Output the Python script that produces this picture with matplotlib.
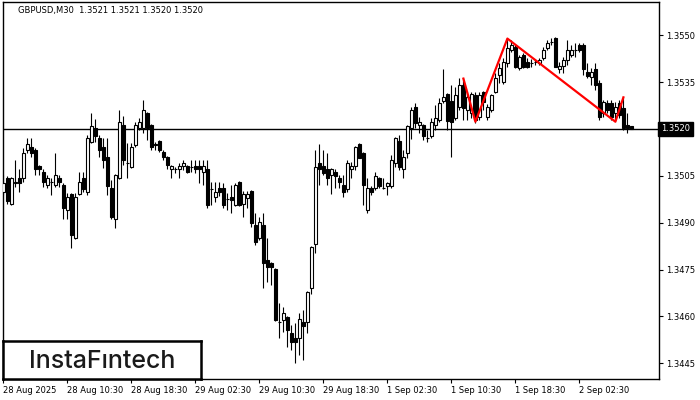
import matplotlib
matplotlib.use("Agg")
import matplotlib.pyplot as plt
from matplotlib.patches import Rectangle

# GBPUSD M30 candles (open, high, low, close)
opens = [1.34998, 1.35042, 1.34959, 1.35026, 1.35042, 1.35042, 1.35132, 1.35142, 1.35132, 1.35081,
         1.35062, 1.35020, 1.35030, 1.35020, 1.35042, 1.35020, 1.34940, 1.34991, 1.34850, 1.34991,
         1.35042, 1.34998, 1.35158, 1.35202, 1.35170, 1.35142, 1.35110, 1.35010, 1.34911, 1.35042,
         1.35212, 1.35090, 1.35078, 1.35148, 1.35202, 1.35202, 1.35250, 1.35212, 1.35151, 1.35161,
         1.35126, 1.35110, 1.35071, 1.35071, 1.35071, 1.35081, 1.35081, 1.35078, 1.35081, 1.35081,
         1.35062, 1.35071, 1.35007, 1.34982, 1.35010, 1.35010, 1.34975, 1.34982, 1.34956, 1.35030,
         1.34959, 1.34978, 1.35001, 1.34892, 1.34850, 1.34892, 1.34780, 1.34770, 1.34751, 1.34582,
         1.34588, 1.34598, 1.34546, 1.34530, 1.34530, 1.34582, 1.34582, 1.34690, 1.34831, 1.35090,
         1.35081, 1.35071, 1.35052, 1.35062, 1.35042, 1.35020, 1.35007, 1.35071, 1.35081, 1.35151,
         1.35122, 1.34940, 1.35010, 1.35010, 1.35042, 1.35010, 1.35017, 1.35017, 1.35090, 1.35161,
         1.35071, 1.35122, 1.35202, 1.35270, 1.35212, 1.35212, 1.35170, 1.35177, 1.35212, 1.35228,
         1.35289, 1.35311, 1.35289, 1.35234, 1.35270, 1.35340, 1.35260, 1.35250, 1.35308, 1.35238,
         1.35318, 1.35238, 1.35260, 1.35318, 1.35372, 1.35350, 1.35410, 1.35452, 1.35462, 1.35394,
         1.35436, 1.35414, 1.35410, 1.35414, 1.35410, 1.35426, 1.35458, 1.35478, 1.35490, 1.35391,
         1.35401, 1.35420, 1.35436, 1.35452, 1.35468, 1.35468, 1.35382, 1.35366, 1.35391, 1.35346,
         1.35250, 1.35282, 1.35282, 1.35250, 1.35282, 1.35266, 1.35212, 1.3521]
highs = [1.35052, 1.35049, 1.35046, 1.35100, 1.35071, 1.35138, 1.35170, 1.35170, 1.35138, 1.35084,
         1.35071, 1.35052, 1.35042, 1.35122, 1.35052, 1.35026, 1.34994, 1.34994, 1.34994, 1.35062,
         1.35062, 1.35180, 1.35250, 1.35231, 1.35180, 1.35170, 1.35170, 1.35036, 1.35055, 1.35260,
         1.35241, 1.35154, 1.35154, 1.35222, 1.35234, 1.35292, 1.35254, 1.35215, 1.35158, 1.35164,
         1.35132, 1.35113, 1.35084, 1.35078, 1.35090, 1.35100, 1.35084, 1.35100, 1.35100, 1.35100,
         1.35100, 1.35100, 1.35030, 1.35030, 1.35030, 1.35026, 1.34994, 1.35020, 1.35026, 1.35033,
         1.35001, 1.35001, 1.35004, 1.34930, 1.34918, 1.34930, 1.34850, 1.34774, 1.34754, 1.34642,
         1.34630, 1.34601, 1.34572, 1.34578, 1.34610, 1.34620, 1.34681, 1.34825, 1.35132, 1.35151,
         1.35132, 1.35122, 1.35074, 1.35071, 1.35052, 1.35052, 1.35100, 1.35094, 1.35145, 1.35154,
         1.35126, 1.35042, 1.35017, 1.35062, 1.35046, 1.35042, 1.35030, 1.35116, 1.35174, 1.35180,
         1.35132, 1.35212, 1.35270, 1.35282, 1.35238, 1.35215, 1.35196, 1.35234, 1.35276, 1.35298,
         1.35391, 1.35314, 1.35340, 1.35334, 1.35362, 1.35362, 1.35318, 1.35318, 1.35318, 1.35318,
         1.35321, 1.35279, 1.35311, 1.35378, 1.35410, 1.35426, 1.35490, 1.35484, 1.35468, 1.35436,
         1.35442, 1.35426, 1.35423, 1.35423, 1.35426, 1.35462, 1.35484, 1.35490, 1.35494, 1.35414,
         1.35430, 1.35484, 1.35468, 1.35474, 1.35474, 1.35474, 1.35410, 1.35394, 1.35410, 1.35356,
         1.35292, 1.35292, 1.35292, 1.35286, 1.35292, 1.35302, 1.35250, 1.3521]
lows = [1.34988, 1.34959, 1.34956, 1.35014, 1.34998, 1.35030, 1.35122, 1.35110, 1.35052, 1.35052,
        1.35014, 1.35010, 1.34988, 1.35014, 1.35014, 1.34911, 1.34911, 1.34818, 1.34847, 1.34988,
        1.34998, 1.34988, 1.35154, 1.35158, 1.35110, 1.35074, 1.34988, 1.34911, 1.34882, 1.35039,
        1.35084, 1.35042, 1.35074, 1.35142, 1.35196, 1.35186, 1.35164, 1.35132, 1.35132, 1.35126,
        1.35100, 1.35071, 1.35042, 1.35058, 1.35042, 1.35068, 1.35058, 1.35062, 1.35058, 1.35026,
        1.35020, 1.34946, 1.34956, 1.34966, 1.34985, 1.34946, 1.34940, 1.34930, 1.34953, 1.34953,
        1.34918, 1.34946, 1.34886, 1.34828, 1.34844, 1.34690, 1.34710, 1.34700, 1.34585, 1.34530,
        1.34550, 1.34502, 1.34492, 1.34450, 1.34476, 1.34460, 1.34546, 1.34671, 1.34802, 1.35020,
        1.35052, 1.35020, 1.34991, 1.35010, 1.35010, 1.34982, 1.34998, 1.35042, 1.35068, 1.35106,
        1.34956, 1.34930, 1.34988, 1.35004, 1.35010, 1.35007, 1.34988, 1.35010, 1.35078, 1.35068,
        1.35042, 1.35106, 1.35167, 1.35202, 1.35186, 1.35164, 1.35158, 1.35170, 1.35196, 1.35222,
        1.35282, 1.35196, 1.35110, 1.35228, 1.35260, 1.35228, 1.35228, 1.35234, 1.35218, 1.35228,
        1.35260, 1.35228, 1.35254, 1.35314, 1.35346, 1.35343, 1.35398, 1.35446, 1.35394, 1.35388,
        1.35394, 1.35394, 1.35398, 1.35404, 1.35404, 1.35420, 1.35452, 1.35468, 1.35398, 1.35378,
        1.35378, 1.35404, 1.35430, 1.35430, 1.35446, 1.35372, 1.35362, 1.35340, 1.35324, 1.35228,
        1.35238, 1.35250, 1.35228, 1.35228, 1.35234, 1.35196, 1.35186, 1.3520]
closes = [1.35026, 1.34969, 1.35042, 1.35030, 1.35026, 1.35122, 1.35151, 1.35122, 1.35071, 1.35071,
          1.35030, 1.35042, 1.35030, 1.35052, 1.35030, 1.34946, 1.34982, 1.34860, 1.34982, 1.35030,
          1.35007, 1.35170, 1.35209, 1.35177, 1.35132, 1.35100, 1.35017, 1.34918, 1.35052, 1.35222,
          1.35100, 1.35090, 1.35142, 1.35212, 1.35222, 1.35260, 1.35202, 1.35142, 1.35148, 1.35132,
          1.35110, 1.35084, 1.35081, 1.35071, 1.35081, 1.35090, 1.35062, 1.35078, 1.35071, 1.35071,
          1.35081, 1.34956, 1.35007, 1.34998, 1.34998, 1.34956, 1.34975, 1.34972, 1.35020, 1.34956,
          1.34991, 1.34991, 1.34898, 1.34838, 1.34902, 1.34770, 1.34758, 1.34758, 1.34588, 1.34582,
          1.34610, 1.34556, 1.34518, 1.34518, 1.34591, 1.34569, 1.34678, 1.34822, 1.35078, 1.35071,
          1.35058, 1.35042, 1.35071, 1.35049, 1.35030, 1.34998, 1.35090, 1.35081, 1.35142, 1.35106,
          1.35020, 1.35010, 1.34998, 1.35049, 1.35017, 1.35010, 1.35026, 1.35100, 1.35170, 1.35078,
          1.35110, 1.35209, 1.35260, 1.35218, 1.35222, 1.35177, 1.35170, 1.35222, 1.35234, 1.35282,
          1.35302, 1.35225, 1.35222, 1.35308, 1.35340, 1.35266, 1.35302, 1.35311, 1.35228, 1.35308,
          1.35286, 1.35270, 1.35308, 1.35362, 1.35394, 1.35414, 1.35458, 1.35468, 1.35398, 1.35430,
          1.35398, 1.35398, 1.35410, 1.35414, 1.35420, 1.35452, 1.35474, 1.35478, 1.35398, 1.35401,
          1.35420, 1.35452, 1.35452, 1.35452, 1.35452, 1.35391, 1.35369, 1.35382, 1.35340, 1.35238,
          1.35286, 1.35260, 1.35238, 1.35270, 1.35244, 1.35202, 1.35202, 1.3520]

# double top pattern outline (bar index, price)
pattern_bars = [115, 118, 126, 153, 155]
pattern_prices = [1.35361, 1.35223, 1.35489, 1.35223, 1.35301]

current_price = 1.3520
title = "GBPUSD,M30  1.3521 1.3521 1.3520 1.3520"

xtick_bars = [0, 16, 32, 48, 64, 80, 96, 112, 128, 144]
xtick_labels = ["28 Aug 2025", "28 Aug 10:30", "28 Aug 18:30", "29 Aug 02:30", "29 Aug 10:30",
                "29 Aug 18:30", "1 Sep 02:30", "1 Sep 10:30", "1 Sep 18:30", "2 Sep 02:30"]
ytick_values = [1.3445, 1.3460, 1.3475, 1.3490, 1.3505, 1.3520, 1.3535, 1.3550]

W, H = 700, 400
fig = plt.figure(figsize=(W / 100, H / 100), dpi=100)
# plot frame in pixels: x 3..659, y 2..379
ax = fig.add_axes([3 / W, (H - 379) / H, 656 / W, 377 / H])
ax.set_xlim(-0.1, 163.9)
ax.set_ylim(1.34400, 1.35606)

fs = 6
for i in range(len(opens)):
    o, h, l, c = opens[i], highs[i], lows[i], closes[i]
    ax.vlines(i, l, h, color="black", lw=0.8, zorder=2)
    bottom = min(o, c)
    height = abs(c - o)
    face = "white" if c > o else "black"
    ax.add_patch(Rectangle((i - 0.28, bottom), 0.56, height, facecolor=face,
                           edgecolor="black", lw=0.8, zorder=3))

ax.axhline(current_price, color="black", lw=1.0, zorder=1)
ax.plot(pattern_bars, pattern_prices, color="#ff0000", lw=1.6, zorder=4)

ax.set_xticks(xtick_bars)
ax.set_xticklabels(xtick_labels, fontsize=fs, ha="left")
ax.set_yticks(ytick_values)
# the current price box covers the 1.3520 tick label
ax.set_yticklabels(["" if v == current_price else f"{v:.4f}" for v in ytick_values], fontsize=fs)
ax.yaxis.tick_right()
ax.tick_params(axis="both", direction="out", length=3, width=0.8, pad=2, colors="black")
for s in ax.spines.values():
    s.set_linewidth(1.0)
    s.set_color("black")

# current price label
ax.text(1.003, current_price, "1.3520", transform=ax.get_yaxis_transform(),
        fontsize=fs, color="white", va="center", ha="left",
        bbox=dict(boxstyle="square,pad=0.35", facecolor="black", edgecolor="black"), zorder=6)

fig.text(18 / W, 1 - 10 / H, title, fontsize=fs, va="center", ha="left", color="black")

# logo box
logo_ax = fig.add_axes([3 / W, (H - 379) / H, 198 / W, 38 / H])
logo_ax.set_xticks([])
logo_ax.set_yticks([])
for s in logo_ax.spines.values():
    s.set_linewidth(1.8)
logo_ax.text(0.5, 0.47, "InstaF\u0131ntech", fontsize=18, family=["Inter", "DejaVu Sans"],
             weight="medium", ha="center", va="center", color="#1a1a1a",
             transform=logo_ax.transAxes)

fig.savefig("out.png", dpi=100)
